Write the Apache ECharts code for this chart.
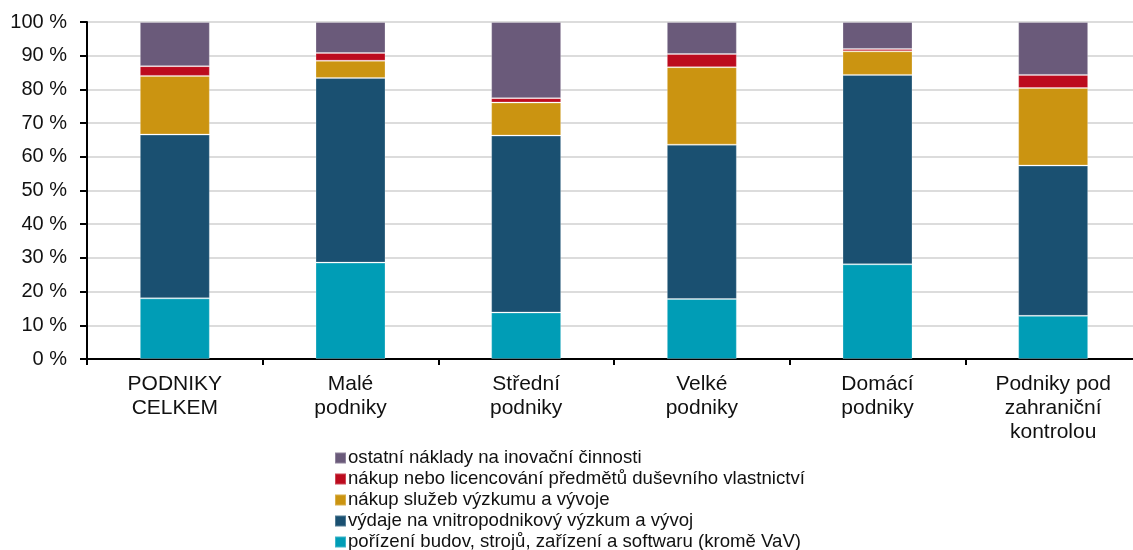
<!DOCTYPE html>
<html>
<head>
<meta charset="utf-8">
<script src="https://cdn.jsdelivr.net/npm/echarts@6/dist/echarts.min.js"></script>
<style>
html,body{margin:0;padding:0;background:#fff;overflow:hidden;}
#chart{width:1141px;height:550px;}
</style>
</head>
<body>
<div id="chart"></div>
<script>
const categories = ['PODNIKY\nCELKEM', 'Malé\npodniky', 'Střední\npodniky', 'Velké\npodniky', 'Domácí\npodniky', 'Podniky pod\nzahraniční\nkontrolou'];
const seriesNames = [
  'pořízení budov, strojů, zařízení a softwaru (kromě VaV)',
  'výdaje na vnitropodnikový výzkum a vývoj',
  'nákup služeb výzkumu a vývoje',
  'nákup nebo licencování předmětů duševního vlastnictví',
  'ostatní náklady na inovační činnosti'
];
const budovy   = [18.0, 28.6, 13.8, 17.8, 28.1, 12.8];
const vyzkum   = [48.6, 54.8, 52.5, 45.8, 56.2, 44.6];
const sluzby   = [17.4, 5.1, 9.8, 23.0, 7.0, 23.0];
const licence  = [2.9, 2.3, 1.3, 3.9, 0.7, 3.9];
const ostatni  = [13.1, 9.2, 22.6, 9.5, 8.0, 15.7];
const colors = ['#009db6', '#1a5071', '#cb9411', '#bc0b1e', '#6a5a7a'];
const yTicks = [0, 10, 20, 30, 40, 50, 60, 70, 80, 90, 100];

const allData = [budovy, vyzkum, sluzby, licence, ostatni];
const FONT = '"Liberation Sans", Arial, sans-serif';

const chart = echarts.init(document.getElementById('chart'), null, {renderer: 'canvas'});
chart.setOption({
  animation: false,
  backgroundColor: '#fff',
  textStyle: {fontFamily: FONT},
  grid: {left: 87, top: 22, right: 0, bottom: 191, containLabel: false},
  legend: {
    orient: 'vertical',
    left: 334,
    top: 447.5,
    height: 120,
    padding: 0,
    itemWidth: 11,
    itemHeight: 11,
    itemGap: 0,
    icon: 'rect',
    data: seriesNames.slice().reverse(),
    textStyle: {fontFamily: FONT, fontSize: 18.6, color: '#111', lineHeight: 21, padding: [0, 0, 0, -3]}
  },
  xAxis: {
    type: 'category',
    data: categories,
    axisLine: {lineStyle: {color: '#000', width: 2}},
    axisTick: {show: true, length: 6, lineStyle: {color: '#000', width: 2}},
    axisLabel: {fontFamily: FONT, fontSize: 21, color: '#111', lineHeight: 24, margin: 13, interval: 0}
  },
  yAxis: {
    type: 'value',
    min: yTicks[0],
    max: yTicks[yTicks.length - 1],
    interval: 10,
    axisLine: {show: true, lineStyle: {color: '#000', width: 2}},
    axisTick: {show: true, inside: false, length: 7, lineStyle: {color: '#000', width: 2}},
    axisLabel: {fontFamily: FONT, fontSize: 20, color: '#111', margin: 20, formatter: '{value} %'},
    splitLine: {lineStyle: {color: '#d0d0d0', width: 1.5}}
  },
  series: seriesNames.map((n, i) => ({
    name: n,
    type: 'bar',
    stack: 'total',
    barWidth: 70,
    data: allData[i],
    itemStyle: {color: colors[i], borderColor: 'rgba(255,255,255,0.25)', borderWidth: 1}
  }))
});
</script>
</body>
</html>
